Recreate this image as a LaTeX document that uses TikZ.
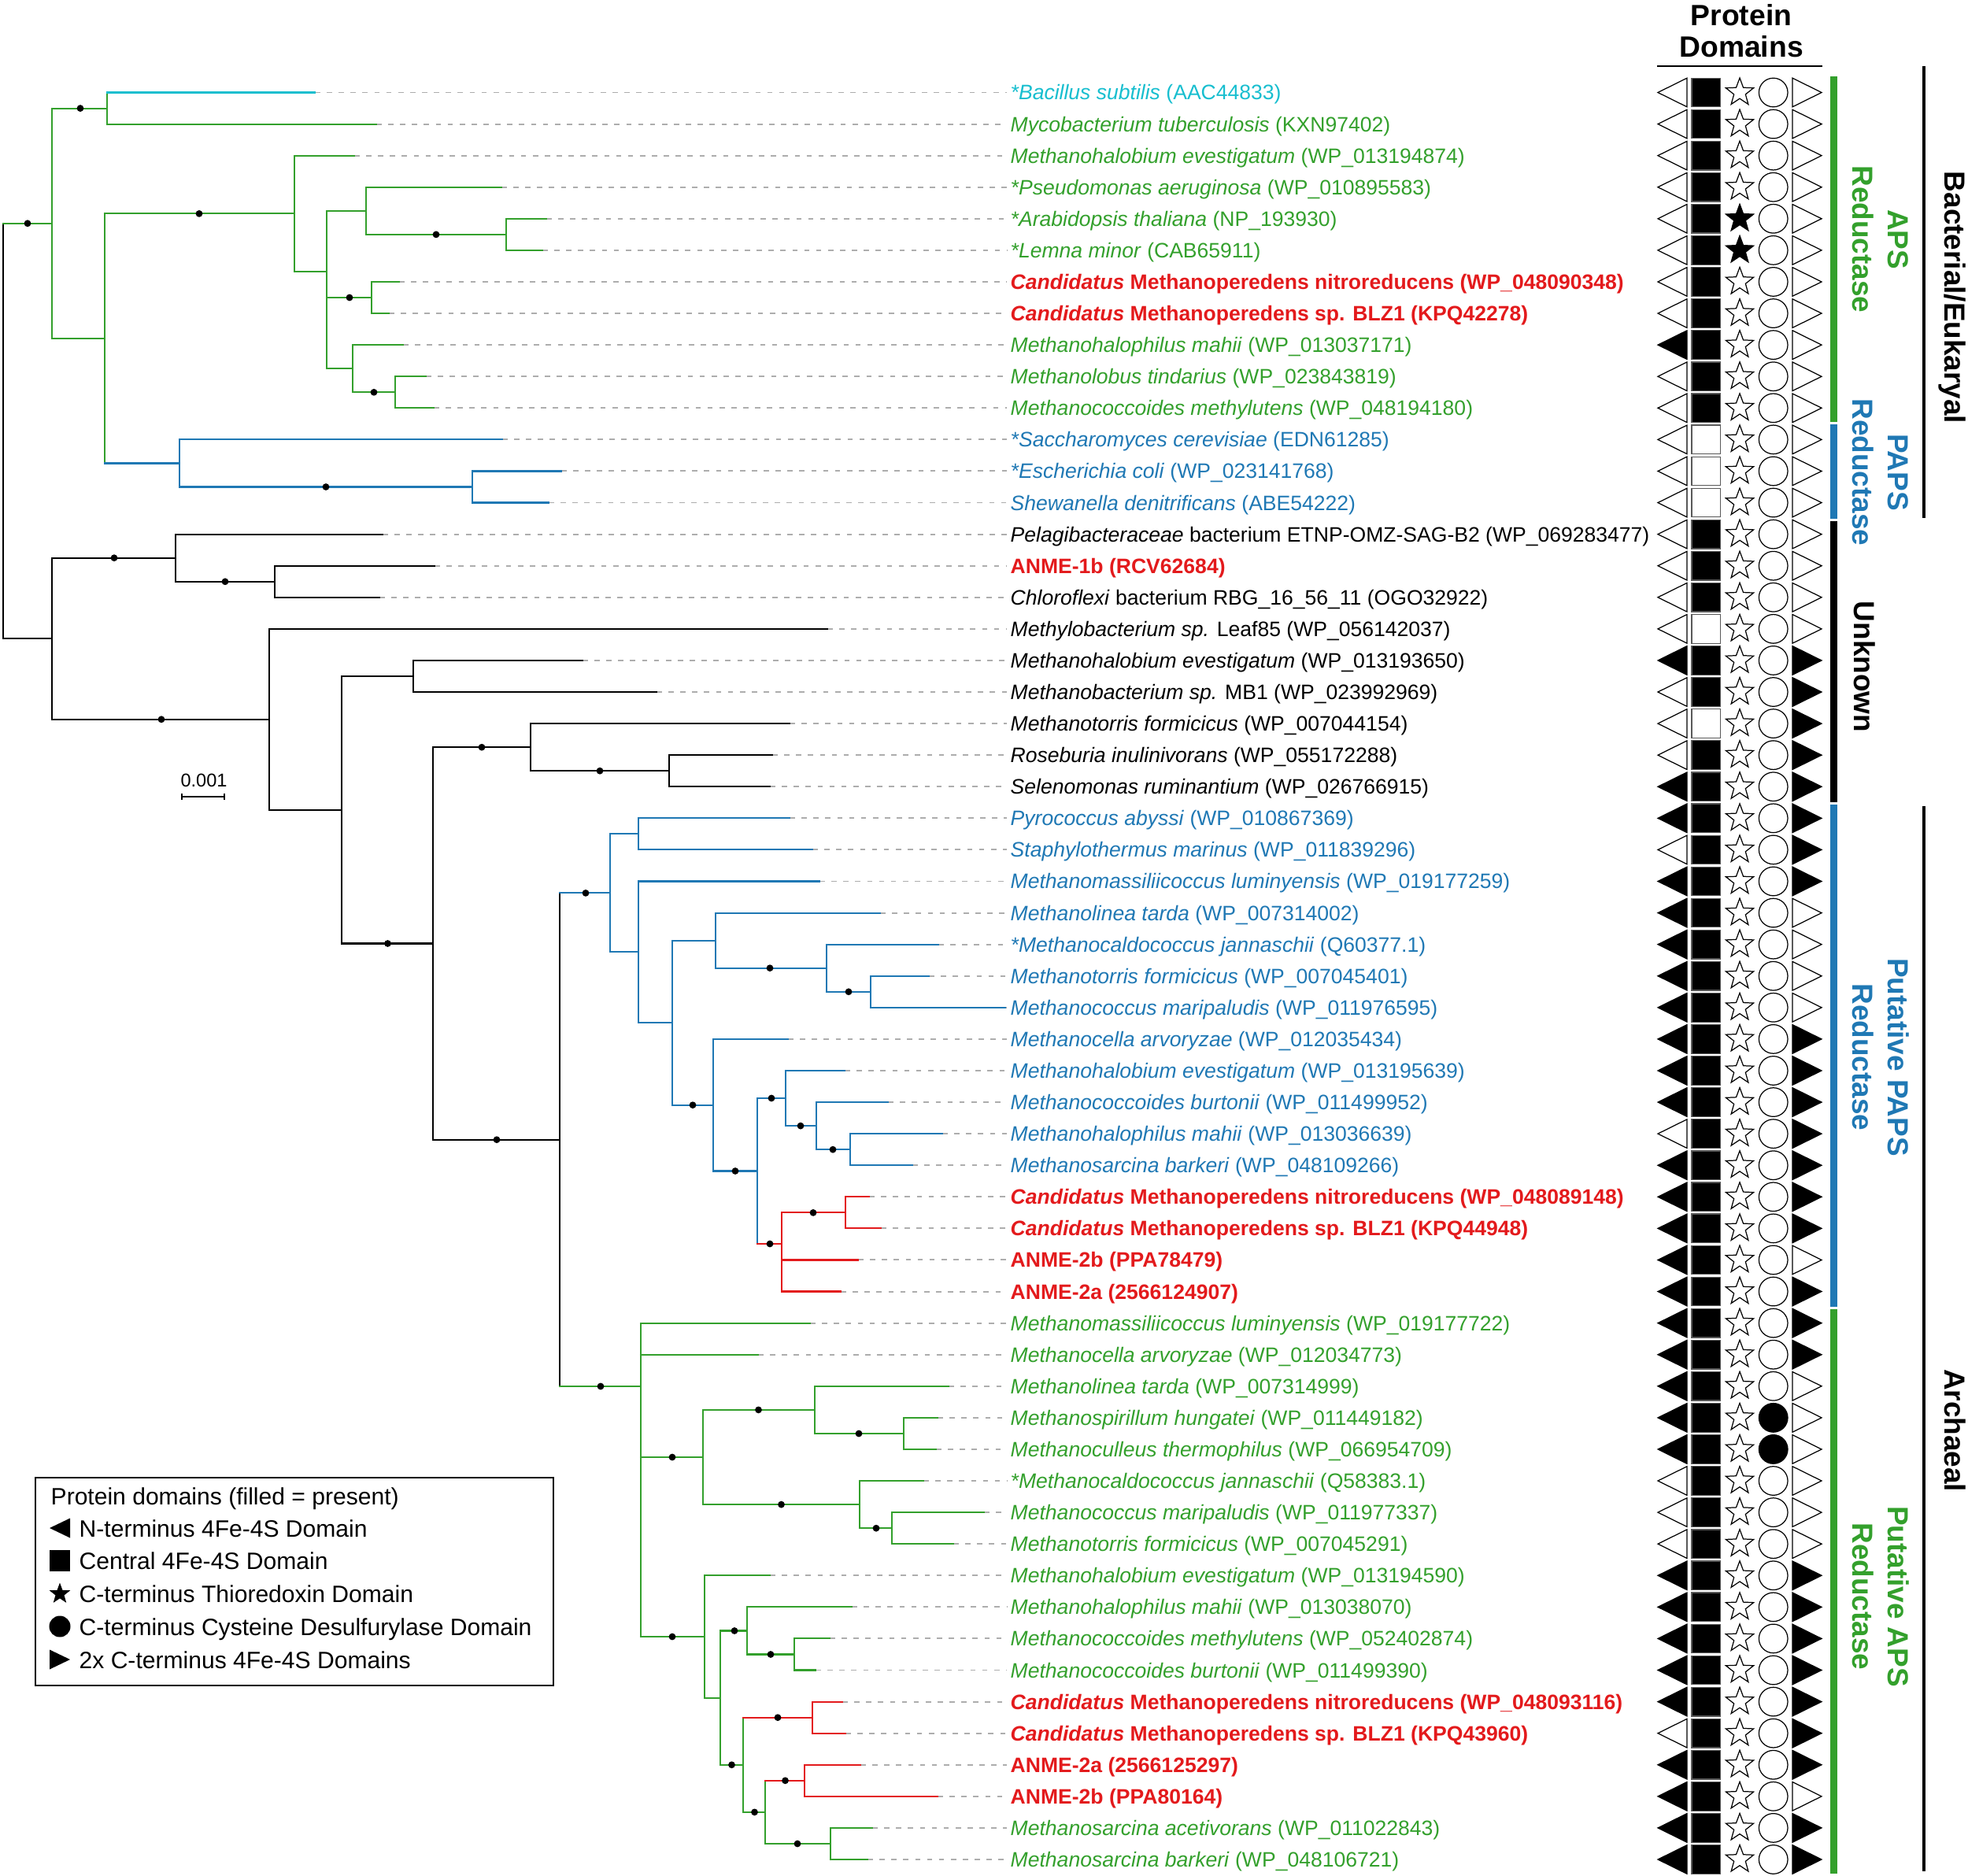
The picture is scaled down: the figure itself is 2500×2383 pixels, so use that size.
\documentclass[tikz,border=0pt]{standalone}
\usepackage{fontspec}
\setmainfont{Liberation Sans}
\usepackage{tikz}
\usetikzlibrary{shapes.geometric}
\tikzset{>=latex}
\definecolor{apsgreen}{RGB}{51,160,44}
\definecolor{papsblue}{RGB}{31,120,180}
\definecolor{anmered}{RGB}{227,26,28}
\definecolor{refcyan}{RGB}{23,190,207}
\colorlet{dom0}{white}
\colorlet{dom1}{black}
\tikzset{
  tree/.style={line width=0.6pt,line cap=rect},
  leader/.style={draw=black!32,line width=0.55pt,dash pattern=on 1.9pt off 2.4pt,shorten >=0.04cm},
  leaflab/.style={anchor=base west,inner sep=0pt,font=\fontsize{7.55}{9}\selectfont},
  domline/.style={draw=black,line width=0.35pt},
  sidelab/.style={rotate=-90,align=center,inner sep=0pt,font=\bfseries\fontsize{10.5}{12.8}\selectfont},
  legtext/.style={anchor=base west,inner sep=0pt,font=\fontsize{8.55}{10}\selectfont}
}
\newcommand{\taxon}[4]{%
  \coordinate (t#1) at (#2,{117.5+40.08*(#1-1)});
  \node[leaflab,text=#3] (l#1) at (1283,{127+40.08*(#1-1)}) {#4};
  \draw[leader] (t#1) -- (l#1.west |- t#1);
}
\newcommand{\cand}[1]{\textbf{\textit{Candidatus} Methanoperedens #1}}

\begin{document}
\begin{tikzpicture}[x=0.01cm,y=-0.01cm]
\useasboundingbox (0,0) rectangle (2500,2383);

\taxon{1}{400}{refcyan}{\textit{*Bacillus subtilis} (AAC44833)}
\taxon{2}{478}{apsgreen}{\textit{Mycobacterium tuberculosis} (KXN97402)}
\taxon{3}{450}{apsgreen}{\textit{Methanohalobium evestigatum} (WP\_013194874)}
\taxon{4}{637}{apsgreen}{\textit{*Pseudomonas aeruginosa} (WP\_010895583)}
\taxon{5}{694}{apsgreen}{\textit{*Arabidopsis thaliana} (NP\_193930)}
\taxon{6}{689}{apsgreen}{\textit{*Lemna minor} (CAB65911)}
\taxon{7}{507}{anmered}{\cand{nitroreducens (WP\_048090348)}}
\taxon{8}{494}{anmered}{\cand{sp. BLZ1 (KPQ42278)}}
\taxon{9}{512}{apsgreen}{\textit{Methanohalophilus mahii} (WP\_013037171)}
\taxon{10}{541}{apsgreen}{\textit{Methanolobus tindarius} (WP\_023843819)}
\taxon{11}{551}{apsgreen}{\textit{Methanococcoides methylutens} (WP\_048194180)}
\taxon{12}{638}{papsblue}{\textit{*Saccharomyces cerevisiae} (EDN61285)}
\taxon{13}{713}{papsblue}{\textit{*Escherichia coli} (WP\_023141768)}
\taxon{14}{697}{papsblue}{\textit{Shewanella denitrificans} (ABE54222)}
\taxon{15}{486}{black}{\textit{Pelagibacteraceae} bacterium ETNP-OMZ-SAG-B2 (WP\_069283477)}
\taxon{16}{552}{anmered}{\textbf{ANME-1b (RCV62684)}}
\taxon{17}{482}{black}{\textit{Chloroflexi} bacterium RBG\_16\_56\_11 (OGO32922)}
\taxon{18}{1051}{black}{\textit{Methylobacterium sp.} Leaf85 (WP\_056142037)}
\taxon{19}{740}{black}{\textit{Methanohalobium evestigatum} (WP\_013193650)}
\taxon{20}{834}{black}{\textit{Methanobacterium sp.} MB1 (WP\_023992969)}
\taxon{21}{1003}{black}{\textit{Methanotorris formicicus} (WP\_007044154)}
\taxon{22}{981}{black}{\textit{Roseburia inulinivorans} (WP\_055172288)}
\taxon{23}{978}{black}{\textit{Selenomonas ruminantium} (WP\_026766915)}
\taxon{24}{1003}{papsblue}{\textit{Pyrococcus abyssi} (WP\_010867369)}
\taxon{25}{1032}{papsblue}{\textit{Staphylothermus marinus} (WP\_011839296)}
\taxon{26}{1041}{papsblue}{\textit{Methanomassiliicoccus luminyensis} (WP\_019177259)}
\taxon{27}{1118}{papsblue}{\textit{Methanolinea tarda} (WP\_007314002)}
\taxon{28}{1192}{papsblue}{\textit{*Methanocaldococcus jannaschii} (Q60377.1)}
\taxon{29}{1180}{papsblue}{\textit{Methanotorris formicicus} (WP\_007045401)}
\taxon{30}{1277}{papsblue}{\textit{Methanococcus maripaludis} (WP\_011976595)}
\taxon{31}{1001}{papsblue}{\textit{Methanocella arvoryzae} (WP\_012035434)}
\taxon{32}{1073}{papsblue}{\textit{Methanohalobium evestigatum} (WP\_013195639)}
\taxon{33}{1128}{papsblue}{\textit{Methanococcoides burtonii} (WP\_011499952)}
\taxon{34}{1197}{papsblue}{\textit{Methanohalophilus mahii} (WP\_013036639)}
\taxon{35}{1159}{papsblue}{\textit{Methanosarcina barkeri} (WP\_048109266)}
\taxon{36}{1104}{anmered}{\cand{nitroreducens (WP\_048089148)}}
\taxon{37}{1119}{anmered}{\cand{sp. BLZ1 (KPQ44948)}}
\taxon{38}{1090}{anmered}{\textbf{ANME-2b (PPA78479)}}
\taxon{39}{1068}{anmered}{\textbf{ANME-2a (2566124907)}}
\taxon{40}{1029}{apsgreen}{\textit{Methanomassiliicoccus luminyensis} (WP\_019177722)}
\taxon{41}{963}{apsgreen}{\textit{Methanocella arvoryzae} (WP\_012034773)}
\taxon{42}{1205}{apsgreen}{\textit{Methanolinea tarda} (WP\_007314999)}
\taxon{43}{1191}{apsgreen}{\textit{Methanospirillum hungatei} (WP\_011449182)}
\taxon{44}{1189}{apsgreen}{\textit{Methanoculleus thermophilus} (WP\_066954709)}
\taxon{45}{1173}{apsgreen}{\textit{*Methanocaldococcus jannaschii} (Q58383.1)}
\taxon{46}{1250}{apsgreen}{\textit{Methanococcus maripaludis} (WP\_011977337)}
\taxon{47}{1211}{apsgreen}{\textit{Methanotorris formicicus} (WP\_007045291)}
\taxon{48}{978}{apsgreen}{\textit{Methanohalobium evestigatum} (WP\_013194590)}
\taxon{49}{1082}{apsgreen}{\textit{Methanohalophilus mahii} (WP\_013038070)}
\taxon{50}{1054}{apsgreen}{\textit{Methanococcoides methylutens} (WP\_052402874)}
\taxon{51}{1036}{apsgreen}{\textit{Methanococcoides burtonii} (WP\_011499390)}
\taxon{52}{1070}{anmered}{\cand{nitroreducens (WP\_048093116)}}
\taxon{53}{1074}{anmered}{\cand{sp. BLZ1 (KPQ43960)}}
\taxon{54}{1093}{anmered}{\textbf{ANME-2a (2566125297)}}
\taxon{55}{1191}{anmered}{\textbf{ANME-2b (PPA80164)}}
\taxon{56}{1108}{apsgreen}{\textit{Methanosarcina acetivorans} (WP\_011022843)}
\taxon{57}{1102}{apsgreen}{\textit{Methanosarcina barkeri} (WP\_048106721)}

\coordinate (rt) at (4,547.5);
\coordinate (A) at (66,283.8);
\coordinate (B) at (136,137.6);
\coordinate (C) at (133,430);
\coordinate (D) at (374,271.4);
\coordinate (E) at (415,345);
\coordinate (F) at (465,267.8);
\coordinate (G) at (643,297.9);
\coordinate (H) at (472,378);
\coordinate (I) at (448,468.2);
\coordinate (J) at (502,498.3);
\coordinate (K) at (228,588.5);
\coordinate (L) at (600,618.5);
\coordinate (M) at (66,811.2);
\coordinate (N) at (223,708.7);
\coordinate (O) at (349,738.8);
\coordinate (P) at (342,913.8);
\coordinate (Q) at (434,1028.7);
\coordinate (R) at (525,859);
\coordinate (S) at (550,1198.5);
\coordinate (T) at (674,949.2);
\coordinate (U) at (850,979.2);
\coordinate (V) at (711,1447.7);
\coordinate (W) at (775,1134.4);
\coordinate (X) at (811,1059.4);
\coordinate (Y) at (811,1209.3);
\coordinate (Z) at (854,1299.2);
\coordinate (AA) at (909,1194.7);
\coordinate (AB) at (1050,1229.7);
\coordinate (AC) at (1106,1259.8);
\coordinate (AD) at (906,1403.7);
\coordinate (AE) at (962,1487.5);
\coordinate (AF) at (998,1395);
\coordinate (AG) at (1037,1430.1);
\coordinate (AH) at (1080,1460.2);
\coordinate (AI) at (993,1580);
\coordinate (AJ) at (1074,1540.4);
\coordinate (AK) at (814,1761);
\coordinate (AL) at (893,1851);
\coordinate (AM) at (1035,1790.9);
\coordinate (AN) at (1148,1821);
\coordinate (AO) at (1092,1911.1);
\coordinate (AP) at (1133,1941.2);
\coordinate (AQ) at (895,2079);
\coordinate (AR) at (915,2156.7);
\coordinate (AS) at (949,2071.5);
\coordinate (AT) at (1009,2101.5);
\coordinate (AU) at (944,2241.8);
\coordinate (AV) at (1032,2181.7);
\coordinate (AW) at (972,2301.9);
\coordinate (AX) at (1022,2261.8);
\coordinate (AY) at (1055,2342);

\foreach \p/\a/\b/\col in {A/B/C/apsgreen,D/t3/E/apsgreen,E/F/I/apsgreen,F/t4/G/apsgreen,
  G/t5/t6/apsgreen,H/t7/t8/apsgreen,I/t9/J/apsgreen,J/t10/t11/apsgreen,
  K/t12/L/papsblue,L/t13/t14/papsblue,
  M/N/P/black,N/t15/O/black,O/t16/t17/black,P/t18/Q/black,Q/R/S/black,
  R/t19/t20/black,S/T/V/black,T/t21/U/black,U/t22/t23/black,
  W/X/Y/papsblue,X/t24/t25/papsblue,Y/t26/Z/papsblue,Z/AA/AD/papsblue,
  AA/t27/AB/papsblue,AB/t28/AC/papsblue,AC/t29/t30/papsblue,AD/t31/AE/papsblue,
  AF/t32/AG/papsblue,AG/t33/AH/papsblue,AH/t34/t35/papsblue,
  AI/AJ/t39/anmered,AJ/t36/t37/anmered,
  AK/t40/AQ/apsgreen,AL/AM/AO/apsgreen,AM/t42/AN/apsgreen,AN/t43/t44/apsgreen,
  AO/t45/AP/apsgreen,AP/t46/t47/apsgreen,AQ/t48/AR/apsgreen,AR/AS/AU/apsgreen,
  AS/t49/AT/apsgreen,AT/t50/t51/apsgreen,
  AV/t52/t53/anmered,AX/t54/t55/anmered,AY/t56/t57/apsgreen}
  \draw[tree,color=\col] (\a) -| (\p) |- (\b);
\foreach \p/\c/\col in {E/H/apsgreen,AI/t38/anmered,AK/t41/apsgreen,AK/AL/apsgreen}
  \draw[tree,color=\col] (\p |- \c) -- (\c);

\draw[tree] (rt |- A) |- (M);
\draw[tree,apsgreen] (rt |- A) -- (A);
\draw[tree,apsgreen] (B |- t1) |- (t2);
\draw[tree,refcyan] (B |- t1) -- (t1);
\draw[tree,apsgreen] (D) -| (C) -- (C |- K);
\draw[tree,papsblue] (C |- K) -- (K);
\draw[tree] (V |- W) -- (V |- AK);
\draw[tree,papsblue] (V |- W) -- (W);
\draw[tree,apsgreen] (V |- AK) -- (AK);
\draw[tree,papsblue] (AF) -| (AE) -- (AE |- AI);
\draw[tree,anmered] (AE |- AI) -- (AI);
\draw[tree,apsgreen] (AU |- AV) |- (AW);
\draw[tree,anmered] (AU |- AV) -- (AV);
\draw[tree,apsgreen] (AW |- AX) |- (AY);
\draw[tree,anmered] (AW |- AX) -- (AX);

\foreach \x/\c in {35/A,102/B,253/D,554/G,444/H,475/J,414/L,145/N,286/O,205/P,
  492.5/S,612/T,762/U,631/V,744/W,978/AB,1078/AC,880/AD,934/AE,980/AF,1017/AG,
  1058/AH,978/AI,1033/AJ,763/AK,854/AL,963.5/AM,1091/AN,992.5/AO,1113/AP,854/AQ,
  933/AS,979/AT,929.5/AU,988/AV,958.5/AW,997.5/AX,1013/AY}
  \fill (\x,0 |- \c) circle[radius=0.044cm];

\node[font=\fontsize{6.7}{8}\selectfont,inner sep=0pt,anchor=base] (scale) at (259,1000) {0.001};
\draw[line width=0.5pt] (231,1008) -- (231,1016) (231,1012) -- (285,1012) (285,1008) -- (285,1016);

\node[align=center,inner sep=0pt,font=\bfseries\fontsize{10.6}{11.3}\selectfont] (head) at (2212,39) {Protein\\Domains};
\draw[line width=0.7pt] (2105,84) -- (2315,84);

\foreach \r/\qa/\qb/\qc/\qd/\qe in {1/0/1/0/0/0,2/0/1/0/0/0,3/0/1/0/0/0,4/0/1/0/0/0,
  5/0/1/1/0/0,6/0/1/1/0/0,7/0/1/0/0/0,8/0/1/0/0/0,9/1/1/0/0/0,10/0/1/0/0/0,
  11/0/1/0/0/0,12/0/0/0/0/0,13/0/0/0/0/0,14/0/0/0/0/0,15/0/1/0/0/0,16/0/1/0/0/0,
  17/0/1/0/0/0,18/0/0/0/0/0,19/1/1/0/0/1,20/0/1/0/0/1,21/0/0/0/0/1,22/0/1/0/0/1,
  23/1/1/0/0/1,24/1/1/0/0/1,25/0/1/0/0/1,26/1/1/0/0/1,27/1/1/0/0/0,28/1/1/0/0/0,
  29/1/1/0/0/0,30/1/1/0/0/0,31/1/1/0/0/1,32/1/1/0/0/1,33/1/1/0/0/1,34/0/1/0/0/1,
  35/1/1/0/0/1,36/1/1/0/0/1,37/1/1/0/0/1,38/1/1/0/0/0,39/1/1/0/0/1,40/1/1/0/0/1,
  41/1/1/0/0/1,42/1/1/0/0/0,43/1/1/0/1/0,44/1/1/0/1/0,45/0/1/0/0/0,46/0/1/0/0/0,
  47/0/1/0/0/0,48/1/1/0/0/1,49/1/1/0/0/1,50/1/1/0/0/1,51/1/1/0/0/1,52/1/1/0/0/1,
  53/0/1/0/0/1,54/1/1/0/0/1,55/1/1/0/0/0,56/1/1/0/0/1,57/1/1/0/0/1}{
  \pgfmathsetmacro\yy{117.5+40.08*(\r-1)}
  \draw[domline,fill=dom\qa] (2106,\yy) -- (2143,\yy-18.3) -- (2143,\yy+18.3) -- cycle;
  \draw[domline,draw=black!65,fill=dom\qb] (2149,\yy-18.3) rectangle (2185.7,\yy+18.3);
  \node[star,star points=5,star point ratio=2.4,minimum size=0.37cm,inner sep=0pt,domline,fill=dom\qc] (st\r) at (2210,\yy) {};
  \draw[domline,fill=dom\qd] (2252.7,\yy) circle[radius=0.183cm];
  \draw[domline,fill=dom\qe] (2314,\yy) -- (2277,\yy-18.3) -- (2277,\yy+18.3) -- cycle;
}

\fill[apsgreen] (2325,97) rectangle (2334,536);
\fill[papsblue] (2325,539) rectangle (2334,659);
\fill[black] (2325,662) rectangle (2334,1019);
\fill[papsblue] (2325,1022) rectangle (2334,1660);
\fill[apsgreen] (2325,1663) rectangle (2334,2380);
\node[sidelab,text=apsgreen] (aps) at (2389,304) {APS\\Reductase};
\node[sidelab,text=papsblue] (paps) at (2389,600) {PAPS\\Reductase};
\node[sidelab,anchor=base] (unknown) at (2355,847) {Unknown};
\node[sidelab,text=papsblue] (putpaps) at (2389,1343) {Putative PAPS\\Reductase};
\node[sidelab,text=apsgreen] (putaps) at (2389,2028) {Putative APS\\Reductase};

\draw[line width=1pt] (2444,84) -- (2444,658);
\draw[line width=1pt] (2444,1024) -- (2444,2377);
\node[sidelab,anchor=base] (bacteuk) at (2470,378) {Bacterial/Eukaryal};
\node[sidelab,anchor=base] (archaea) at (2470,1817) {Archaeal};

\draw[line width=0.6pt] (45,1877) rectangle (703,2141);
\node[legtext] (legtitle) at (64,1911) {Protein domains (filled = present)};
\fill (63,1941) -- (89,1928.5) -- (89,1953.5) -- cycle;
\node[legtext] (legn) at (100,1952) {N-terminus 4Fe-4S Domain};
\fill (63,1969) rectangle (89,1996);
\node[legtext] (legc) at (100,1993.5) {Central 4Fe-4S Domain};
\node[star,star points=5,star point ratio=2.4,minimum size=0.28cm,inner sep=0pt,fill=black] (legstar) at (76,2024.5) {};
\node[legtext] (legt) at (100,2035.5) {C-terminus Thioredoxin Domain};
\fill (76,2066) circle[radius=0.135cm];
\node[legtext] (legd) at (100,2077) {C-terminus Cysteine Desulfurylase Domain};
\fill (89,2108) -- (63,2095.5) -- (63,2120.5) -- cycle;
\node[legtext] (legr) at (100,2119) {2x C-terminus 4Fe-4S Domains};
\end{tikzpicture}
\end{document}
